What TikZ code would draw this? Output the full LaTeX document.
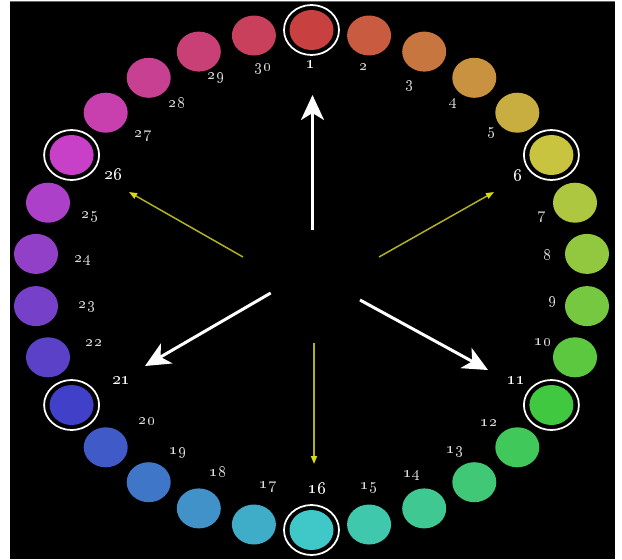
\documentclass[tikz,border=0pt]{standalone}
\usepackage{xcolor}
\usepackage{tikz}
\usetikzlibrary{arrows.meta}
\definecolor{CWHue1}{HTML}{C84040}
\definecolor{CWHue2}{HTML}{C85B40}
\definecolor{CWHue3}{HTML}{C87640}
\definecolor{CWHue4}{HTML}{C89240}
\definecolor{CWHue5}{HTML}{C8AD40}
\definecolor{CWHue6}{HTML}{C8C440}
\definecolor{CWHue7}{HTML}{ADC840}
\definecolor{CWHue8}{HTML}{92C840}
\definecolor{CWHue9}{HTML}{76C840}
\definecolor{CWHue10}{HTML}{5BC840}
\definecolor{CWHue11}{HTML}{40C840}
\definecolor{CWHue12}{HTML}{40C85B}
\definecolor{CWHue13}{HTML}{40C876}
\definecolor{CWHue14}{HTML}{40C892}
\definecolor{CWHue15}{HTML}{40C8AD}
\definecolor{CWHue16}{HTML}{40C8C8}
\definecolor{CWHue17}{HTML}{40ADC8}
\definecolor{CWHue18}{HTML}{4092C8}
\definecolor{CWHue19}{HTML}{4076C8}
\definecolor{CWHue20}{HTML}{405BC8}
\definecolor{CWHue21}{HTML}{4040C8}
\definecolor{CWHue22}{HTML}{5B40C8}
\definecolor{CWHue23}{HTML}{7640C8}
\definecolor{CWHue24}{HTML}{9240C8}
\definecolor{CWHue25}{HTML}{AD40C8}
\definecolor{CWHue26}{HTML}{C840C8}
\definecolor{CWHue27}{HTML}{C840AD}
\definecolor{CWHue28}{HTML}{C84092}
\definecolor{CWHue29}{HTML}{C84076}
\definecolor{CWHue30}{HTML}{C8405B}
\definecolor{CWLabel}{HTML}{DDDDDD}
\definecolor{CWYellow}{HTML}{B0B020}
\definecolor{CWTip}{HTML}{DADA10}

\begin{document}
\begin{tikzpicture}[x=0.02cm,y=-0.02cm,
  lbl/.style={text=CWLabel,font=\fontsize{9.5}{11}\selectfont,inner sep=0pt},
  keylbl/.style={lbl,text=white,font=\fontsize{10}{11}\selectfont\bfseries},
  ring/.style={draw=white,line width=0.035cm},
  bigarrow/.style={white,line width=0.06cm,-{Stealth[length=0.5cm,width=0.46cm,inset=0.14cm]}},
  smallarrow/.style={CWYellow,line width=0.03cm,-{Triangle[length=0.16cm,width=0.12cm,color=CWTip]}}]
\path[use as bounding box] (0,0) rectangle (622,559);
\fill[white] (0,0) rectangle (622,559);
\fill[black] (10,1) rectangle (615,559);
\draw[black!60,line width=0.02cm] (10,1) -- (615,1);
% colour swatches
\fill[CWHue1] (311.5,30.0) ellipse [x radius=22, y radius=20];
\fill[CWHue2] (369.1,35.5) ellipse [x radius=22, y radius=20];
\fill[CWHue3] (424.2,51.6) ellipse [x radius=22, y radius=20];
\fill[CWHue4] (474.3,77.8) ellipse [x radius=22, y radius=20];
\fill[CWHue5] (517.3,112.7) ellipse [x radius=22, y radius=20];
\fill[CWHue6] (551.4,155.0) ellipse [x radius=22, y radius=20];
\fill[CWHue7] (575.0,202.7) ellipse [x radius=22, y radius=20];
\fill[CWHue8] (587.0,253.9) ellipse [x radius=22, y radius=20];
\fill[CWHue9] (587.0,306.1) ellipse [x radius=22, y radius=20];
\fill[CWHue10] (575.0,357.3) ellipse [x radius=22, y radius=20];
\fill[CWHue11] (551.4,405.0) ellipse [x radius=22, y radius=20];
\fill[CWHue12] (517.3,447.3) ellipse [x radius=22, y radius=20];
\fill[CWHue13] (474.3,482.2) ellipse [x radius=22, y radius=20];
\fill[CWHue14] (424.2,508.4) ellipse [x radius=22, y radius=20];
\fill[CWHue15] (369.1,524.5) ellipse [x radius=22, y radius=20];
\fill[CWHue16] (311.5,530.0) ellipse [x radius=22, y radius=20];
\fill[CWHue17] (253.9,524.5) ellipse [x radius=22, y radius=20];
\fill[CWHue18] (198.8,508.4) ellipse [x radius=22, y radius=20];
\fill[CWHue19] (148.7,482.2) ellipse [x radius=22, y radius=20];
\fill[CWHue20] (105.7,447.3) ellipse [x radius=22, y radius=20];
\fill[CWHue21] (71.6,405.0) ellipse [x radius=22, y radius=20];
\fill[CWHue22] (48.0,357.3) ellipse [x radius=22, y radius=20];
\fill[CWHue23] (36.0,306.1) ellipse [x radius=22, y radius=20];
\fill[CWHue24] (36.0,253.9) ellipse [x radius=22, y radius=20];
\fill[CWHue25] (48.0,202.7) ellipse [x radius=22, y radius=20];
\fill[CWHue26] (71.6,155.0) ellipse [x radius=22, y radius=20];
\fill[CWHue27] (105.7,112.7) ellipse [x radius=22, y radius=20];
\fill[CWHue28] (148.7,77.8) ellipse [x radius=22, y radius=20];
\fill[CWHue29] (198.8,51.6) ellipse [x radius=22, y radius=20];
\fill[CWHue30] (253.9,35.5) ellipse [x radius=22, y radius=20];
% rings round the key hues
\draw[ring] (311.5,30.0) ellipse [x radius=27.5, y radius=25];
\draw[ring] (551.4,155.0) ellipse [x radius=27.5, y radius=25];
\draw[ring] (551.4,405.0) ellipse [x radius=27.5, y radius=25];
\draw[ring] (311.5,530.0) ellipse [x radius=27.5, y radius=25];
\draw[ring] (71.6,405.0) ellipse [x radius=27.5, y radius=25];
\draw[ring] (71.6,155.0) ellipse [x radius=27.5, y radius=25];
% numbers
\node[keylbl] (n1) at (311,65) {\oldstylenums{1}};
\node[lbl] (n2) at (364,67) {\oldstylenums{2}};
\node[lbl] (n3) at (410,86) {\oldstylenums{3}};
\node[lbl] (n4) at (454,104) {\oldstylenums{4}};
\node[lbl] (n5) at (492,133) {\oldstylenums{5}};
\node[keylbl] (n6) at (518,175) {\oldstylenums{6}};
\node[lbl] (n7) at (542,217) {\oldstylenums{7}};
\node[lbl] (n8) at (548,254) {\oldstylenums{8}};
\node[lbl] (n9) at (553,302) {\oldstylenums{9}};
\node[lbl] (n10) at (543,342) {\oldstylenums{10}};
\node[keylbl] (n11) at (516,381) {\oldstylenums{11}};
\node[lbl] (n12) at (489,423) {\oldstylenums{12}};
\node[lbl] (n13) at (455,452) {\oldstylenums{13}};
\node[lbl] (n14) at (412,476) {\oldstylenums{14}};
\node[lbl] (n15) at (369,488) {\oldstylenums{15}};
\node[keylbl] (n16) at (317,488) {\oldstylenums{16}};
\node[lbl] (n17) at (268,487) {\oldstylenums{17}};
\node[lbl] (n18) at (218,471) {\oldstylenums{18}};
\node[lbl] (n19) at (178,453) {\oldstylenums{19}};
\node[lbl] (n20) at (147,421) {\oldstylenums{20}};
\node[keylbl] (n21) at (121,381) {\oldstylenums{21}};
\node[lbl] (n22) at (94,343) {\oldstylenums{22}};
\node[lbl] (n23) at (87,307) {\oldstylenums{23}};
\node[lbl] (n24) at (83,261) {\oldstylenums{24}};
\node[lbl] (n25) at (90,217) {\oldstylenums{25}};
\node[keylbl] (n26) at (113,174) {\oldstylenums{26}};
\node[lbl] (n27) at (143,136) {\oldstylenums{27}};
\node[lbl] (n28) at (177,102) {\oldstylenums{28}};
\node[lbl] (n29) at (216,78) {\oldstylenums{29}};
\node[lbl] (n30) at (263,69) {\oldstylenums{30}};
% arrows from the middle
\coordinate (up0) at (312.5,230);
\coordinate (up1) at (312.5,95);
\coordinate (ll0) at (270.7,293);
\coordinate (ll1) at (145,366);
\coordinate (lr0) at (360,300);
\coordinate (lr1) at (488,370);
\coordinate (ul0) at (243,257);
\coordinate (ul1) at (129,192);
\coordinate (ur0) at (379,257);
\coordinate (ur1) at (494,192);
\coordinate (dn0) at (314,343);
\coordinate (dn1) at (314,464);
\draw[bigarrow] (up0) -- (up1);
\draw[bigarrow] (ll0) -- (ll1);
\draw[bigarrow] (lr0) -- (lr1);
\draw[smallarrow] (ul0) -- (ul1);
\draw[smallarrow] (ur0) -- (ur1);
\draw[smallarrow] (dn0) -- (dn1);
\end{tikzpicture}
\end{document}
